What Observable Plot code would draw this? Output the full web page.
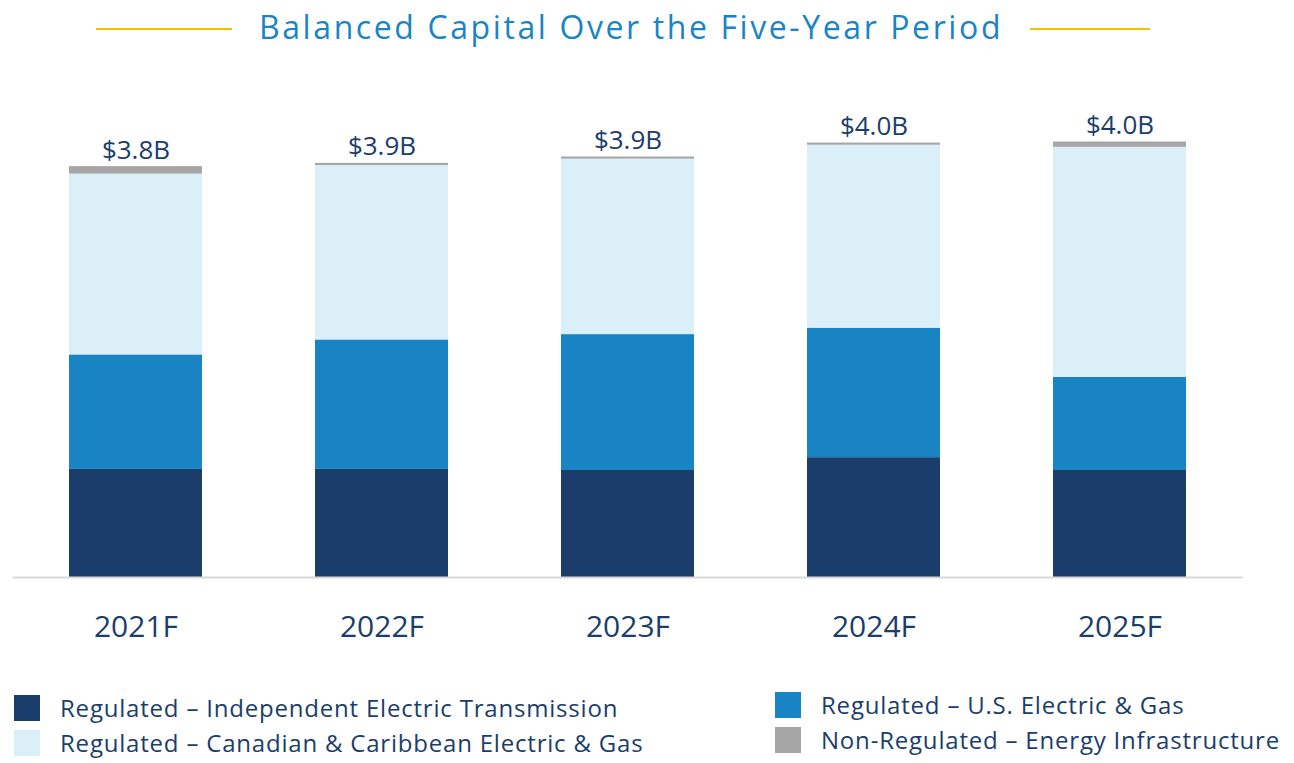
<!DOCTYPE html>
<html>
<head>
<meta charset="utf-8">
<script src="https://cdn.jsdelivr.net/npm/d3@7"></script>
<script src="https://cdn.jsdelivr.net/npm/@observablehq/plot@0.6"></script>
<style>
  html, body { margin: 0; padding: 0; background: #fff; }
  body { width: 1294px; height: 763px; position: relative; overflow: hidden; font-family: "Open Sans", sans-serif; }
  .title { position: absolute; top: 7px; left: 200px; width: 862px; text-align: center; font-size: 32px; letter-spacing: 2.6px; color: #1a85c4; line-height: 40px; }
  .tline { position: absolute; top: 28px; height: 2px; background: #f5bf00; }
  #chart { position: absolute; top: 70px; left: 0; }
  .leg { position: absolute; display: flex; align-items: center; font-size: 24px; letter-spacing: 0.8px; color: #1b3d6b; white-space: nowrap; line-height: 26px; }
  .sw { width: 26px; height: 26px; margin-right: 20px; flex: none; }
</style>
</head>
<body>
<div class="tline" style="left:96px;width:136px"></div>
<div class="title">Balanced Capital Over the Five-Year Period</div>
<div class="tline" style="left:1030px;width:120px"></div>
<div id="chart"></div>
<div id="legend"></div>
<script>
const years = ["2021F", "2022F", "2023F", "2024F", "2025F"];
const seriesNames = [
  "Regulated – Independent Electric Transmission",
  "Regulated – U.S. Electric & Gas",
  "Regulated – Canadian & Caribbean Electric & Gas",
  "Non-Regulated – Energy Infrastructure"
];
const independentTransmission = [1.01, 1.01, 1.00, 1.12, 1.00];
const usElectricGas = [1.07, 1.21, 1.27, 1.21, 0.87];
const canadianCaribbean = [1.69, 1.63, 1.64, 1.71, 2.15];
const nonRegulated = [0.07, 0.02, 0.02, 0.02, 0.05];
const totalLabels = ["$3.8B", "$3.9B", "$3.9B", "$4.0B", "$4.0B"];
const seriesColors = ["#1b3d6b", "#1884c3", "#daeff8", "#a6a6a6"];

const seriesValues = [independentTransmission, usElectricGas, canadianCaribbean, nonRegulated];
const rows = [];
seriesNames.forEach((name, si) => {
  years.forEach((yr, i) => rows.push({year: yr, series: name, value: seriesValues[si][i]}));
});
const totals = years.map((yr, i) => ({
  year: yr,
  total: seriesValues.reduce((s, arr) => s + arr[i], 0),
  label: totalLabels[i]
}));

const chart = Plot.plot({
  width: 1294,
  height: 610,
  marginLeft: 12.5,
  marginRight: 51.5,
  marginTop: 79,
  marginBottom: 103,
  style: {color: "#1b3d6b", fontFamily: "'Open Sans', sans-serif", background: "transparent"},
  x: {domain: years, paddingInner: 0.46, paddingOuter: 0.23, label: null},
  y: {domain: [0, 4], axis: null},
  color: {domain: seriesNames, range: seriesColors},
  marks: [
    Plot.barY(rows, {x: "year", y: "value", fill: "series", order: seriesNames}),
    Plot.ruleY([0], {stroke: "#d9d9d9", strokeWidth: 2}),
    Plot.text(totals, {x: "year", y: "total", text: "label", lineAnchor: "bottom", dy: -8, fontSize: 26, fill: "#1b3d6b", style: "letter-spacing: 0.6px"}),
    Plot.axisX({tickSize: 0, tickPadding: 38, fontSize: 30, label: null, fill: "#1b3d6b"})
  ]
});
document.getElementById("chart").appendChild(chart);

const legendPos = [
  {left: 14, top: 695},
  {left: 775, top: 692},
  {left: 14, top: 730},
  {left: 775, top: 727}
];
const legend = document.getElementById("legend");
seriesNames.forEach((name, i) => {
  const item = document.createElement("div");
  item.className = "leg";
  item.style.left = legendPos[i].left + "px";
  item.style.top = legendPos[i].top + "px";
  const sw = document.createElement("div");
  sw.className = "sw";
  sw.style.background = seriesColors[i];
  const label = document.createElement("span");
  label.textContent = name;
  item.appendChild(sw);
  item.appendChild(label);
  legend.appendChild(item);
});
</script>
</body>
</html>
